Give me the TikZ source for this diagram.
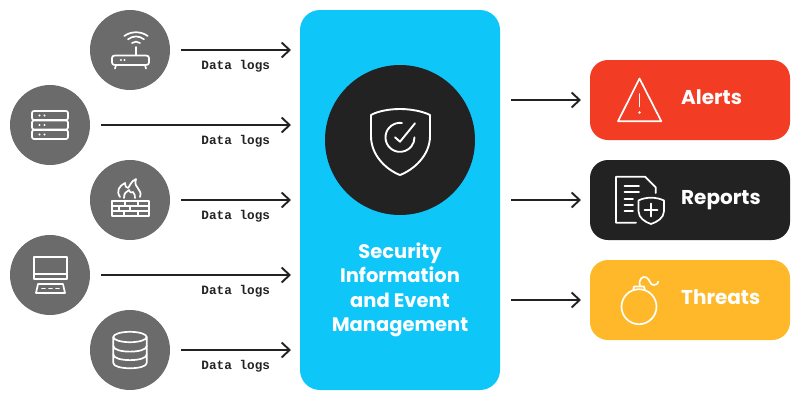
\documentclass[tikz,border=0pt]{standalone}
\usepackage{fontspec}
\setmainfont{Poppins}
\setmonofont{Liberation Mono}
\usetikzlibrary{arrows.meta,calc}
\definecolor{skyb}{HTML}{0FC6F9}
\definecolor{darkc}{HTML}{222222}
\definecolor{grayc}{HTML}{6B6B6B}
\definecolor{redc}{HTML}{F23C23}
\definecolor{yelc}{HTML}{FEB829}
\tikzset{
 x=1pt,y=-1pt,
 srcnode/.style={circle,fill=grayc,minimum size=80pt,inner sep=0pt,outer sep=0pt},
 outbox/.style={rounded corners=18pt,minimum width=200pt,minimum height=80pt,inner sep=0pt,outer sep=0pt},
 arr/.style={draw=darkc,line width=1.9pt,-{Straight Barb[length=8pt,width=15pt,line width=1.9pt]}},
 lab/.style={font=\ttfamily\bfseries\fontsize{12.7}{14}\selectfont,text=darkc,inner sep=0pt,anchor=base east},
 ico/.style={draw=white,line width=1.7pt,line cap=round,line join=round,fill=none},
 ttl/.style={font=\fontsize{20}{24}\selectfont\bfseries,text=white,inner sep=0pt,anchor=base west},
}
\begin{document}
\begin{tikzpicture}
\useasboundingbox (0,0) rectangle (801,400);
\node[fill=skyb,rounded corners=20pt,minimum width=200pt,minimum height=380pt,inner sep=0pt,outer sep=0pt] (main) at (400,200) {};
\node[circle,fill=darkc,minimum size=150pt,inner sep=0pt,outer sep=0pt] (hub) at (400,140) {};
\node[align=center,text=white,font=\fontsize{19.5}{24.3}\selectfont\bfseries,inner sep=0pt] (title) at (400,290) {Security\\Information\\and Event\\Management};
\node[srcnode] (s1) at (130,50) {};
\node[srcnode] (s2) at (50,125) {};
\node[srcnode] (s3) at (130,200) {};
\node[srcnode] (s4) at (50,275) {};
\node[srcnode] (s5) at (130,350) {};
\node[outbox,fill=redc] (o1) at (690,100) {};
\node[outbox,fill=darkc] (o2) at (690,200) {};
\node[outbox,fill=yelc] (o3) at (690,300) {};
\foreach \i in {1,...,5}{
 \draw[arr,shorten <=11pt,shorten >=9pt] (s\i.east) -- (s\i.east -| main.west) coordinate[pos=1] (e\i);
 \node[lab] (l\i) at ($(e\i)+(-29.8,19.5)$) {Data logs};
}
\foreach \i in {1,2,3}{
 \draw[arr,shorten <=11pt,shorten >=9pt] (o\i.west -| main.east) -- (o\i.west);
}
\node[ttl] (t1) at (681,104.5) {Alerts};
\node[ttl] (t2) at (681,204.5) {Reports};
\node[ttl] (t3) at (681,304.5) {Threats};
% router
\draw[ico] (115,55.5) -- (146,55.5) .. controls (148,55.5) and (149,56.5) .. (149,58) -- (149,62.5) .. controls (149,64) and (148,65) .. (146,65) -- (115,65) .. controls (113,65) and (112,64) .. (112,62.5) -- (112,58) .. controls (112,56.5) and (113,55.5) .. (115,55.5);
\draw[ico] (136,47) -- (136,55.5);
\draw[ico] (116,65) -- (115,68.5) (145,65) -- (146,68.5);
\draw[ico] (132,43) .. controls (134.5,41.2) and (137.5,41.2) .. (140,43);
\draw[ico] (128,39.3) .. controls (133,35.5) and (139,35.5) .. (144,39.3);
\draw[ico] (124.3,36) .. controls (131,31) and (141,31) .. (147.7,36);
\fill[white] (121,60) circle (1.2) (124.5,60) circle (1.2);
% server
\foreach \a/\b in {111/120,120.5/129.5,130/139}{
 \draw[ico,rounded corners=2pt] (32,\a) rectangle (68,\b);
 \fill[white] (39.5,{(\a+\b)/2}) circle (1.2) (44.5,{(\a+\b)/2}) circle (1.2);
}
% firewall
\draw[ico] (112,201) rectangle (149,216);
\draw[ico] (112,206) -- (149,206) (112,211) -- (149,211);
\draw[ico] (125,201) -- (125,206) (138,201) -- (138,206) (119,206) -- (119,211) (130,206) -- (130,211) (124,211) -- (124,216) (138,211) -- (138,216);
\draw[ico] (120,197) .. controls (116,191) and (119,186) .. (125,183) .. controls (125,186) and (126,188) .. (128,188) .. controls (130,186) and (131,181) .. (136,179) .. controls (134,185) and (137,186) .. (139,190) .. controls (141,193) and (141,195) .. (140,197);
\draw[ico] (124,198) .. controls (124,193) and (126,192) .. (129,190) .. controls (130,193) and (132,193) .. (133,192) .. controls (135,194) and (135,196) .. (135,198);
% computer
\draw[ico] (34,257) rectangle (67,279);
\draw[ico] (34,274) -- (67,274);
\draw[ico] (38,284) -- (63,284) -- (65,293) -- (36,293) -- cycle;
\draw[ico] (42,288.5) -- (45,288.5) (49,288.5) -- (52,288.5) (56,288.5) -- (59,288.5);
% database
\draw[ico] (130,337) ellipse[x radius=16.7,y radius=5.2];
\draw[ico] (113.3,337) -- (113.3,363) .. controls (113.3,370) and (146.7,370) .. (146.7,363) -- (146.7,337);
\draw[ico] (113.3,346) .. controls (113.3,353.5) and (146.7,353.5) .. (146.7,346);
\draw[ico] (113.3,354.5) .. controls (113.3,362) and (146.7,362) .. (146.7,354.5);
% shield
\draw[ico,line width=1.9pt] (400,109) .. controls (390,109) and (378,111) .. (371,115) -- (371,136) .. controls (371,156) and (387,170) .. (400,175) .. controls (413,170) and (430,156) .. (430,136) -- (430,115) .. controls (422,111) and (410,109) .. (400,109);
\draw[ico,line width=1.9pt] (402,123) arc[start angle=-82,end angle=-360,radius=14.5];
\draw[ico,line width=1.9pt] (395,137.3) -- (400,141.7) -- (415,123.3);
% alert
\draw[ico] (639.5,78.5) -- (661.3,121.3) -- (618,121.3) -- cycle;
\draw[ico] (639.5,94) -- (639.5,106.5);
\fill[white] (639.5,112.5) circle (1.3);
% report
\draw[ico] (636,222.7) -- (616,222.7) -- (616,176.7) -- (645,176.7) -- (655.7,187.3) -- (655.7,193);
\draw[ico] (624.5,186) -- (639,186) (624.5,192.3) -- (639,192.3) (624.5,198.7) -- (633,198.7) (624.5,204.7) -- (633,204.7) (624.5,210.7) -- (633,210.7);
\draw[ico] (651,197.7) .. controls (647,197.7) and (642,198.5) .. (638.5,200.5) -- (638.5,211) .. controls (638.5,218) and (645,222) .. (651,224) .. controls (657,222) and (664,218) .. (664,211) -- (664,200.5) .. controls (660,198.5) and (655,197.7) .. (651,197.7);
\draw[ico] (644.5,210) -- (657.5,210) (651,203.5) -- (651,216.5);
% bomb
\draw[ico] (639,306.7) circle (17.5);
\draw[ico] (633,290.5) -- (634,286.5) -- (644,286.5) -- (645,290.5);
\draw[ico] (640,285.5) .. controls (638,279) and (643,275.5) .. (646.5,277.5) .. controls (650,279.5) and (650,285.5) .. (654,285) .. controls (656.5,285) and (658,283.5) .. (658.3,281.7);
\end{tikzpicture}
\end{document}
